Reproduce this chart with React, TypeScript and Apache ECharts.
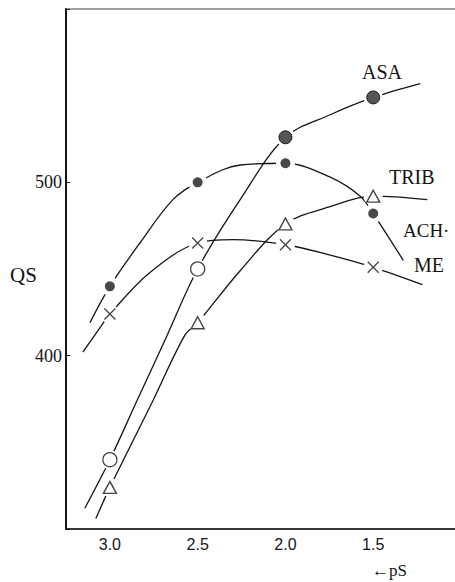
import React, { useEffect, useRef } from "react";
import * as echarts from "echarts";

const pSLevels = [3.0, 2.5, 2.0, 1.5];
const asaQS = [340, 450, 526, 549];
const tribQS = [324, 419, 476, 492];
const achQS = [440, 500, 511, 482];
const meQS = [424, 465, 464, 451];

// Hand-drawn fitted curves: [pS, QS]
const asaCurve: [number, number][] = [
  [3.143, 312], [3.0, 340], [2.846, 374], [2.686, 409], [2.5, 450], [2.258, 490],
  [2.0, 526], [1.745, 539], [1.5, 549], [1.232, 557],
];
const tribCurve: [number, number][] = [
  [3.08, 306], [3.0, 324], [2.755, 374], [2.572, 412], [2.5, 419], [2.258, 449],
  [2.0, 476], [1.745, 486], [1.5, 492], [1.192, 490],
];
const achCurve: [number, number][] = [
  [3.114, 419], [3.0, 440], [2.829, 465], [2.641, 490], [2.5, 500], [2.258, 510],
  [2.0, 511], [1.745, 503], [1.574, 492], [1.5, 482], [1.329, 455],
];
const meCurve: [number, number][] = [
  [3.154, 402], [3.057, 416], [3.0, 424], [2.772, 448], [2.5, 465], [2.298, 467],
  [2.0, 464], [1.745, 458], [1.5, 451], [1.22, 441],
];

const xTickLabels = ["3.0", "2.5", "2.0", "1.5"];
const yTickLabels = ["400", "500"];

const INK = "#151515";
const CROSS = "path://M0,0L10,10M10,0L0,10";

export default function App() {
  const ref = useRef<HTMLDivElement>(null);
  useEffect(() => {
    if (!ref.current) return;
    const chart = echarts.init(ref.current, undefined, { renderer: "svg" });

    const curve = (name: string, data: [number, number][]) => ({
      name,
      type: "line",
      data,
      smooth: 0.35,
      symbol: "none",
      z: 2,
      lineStyle: { color: INK, width: 1.3 },
    });

    const pts = (vals: number[]) => pSLevels.map((p, i) => [p, vals[i]]);

    const haloData = [
      ...pts(asaQS),
      ...pts(tribQS),
      ...pts(achQS),
      ...pts(meQS),
    ];

    const asaPoints = pSLevels.map((p, i) =>
      i < 2
        ? {
            value: [p, asaQS[i]],
            symbol: "circle",
            symbolSize: 14,
            itemStyle: { color: "#fff", borderColor: INK, borderWidth: 1.3 },
          }
        : {
            value: [p, asaQS[i]],
            symbol: "circle",
            symbolSize: 13,
            itemStyle: { color: "#2a2a2a", borderColor: "#000", borderWidth: 1 },
          }
    );

    chart.setOption({
      animation: false,
      backgroundColor: "#fff",
      grid: {
        left: 66,
        width: 395,
        top: 9,
        bottom: 53,
        show: true,
        borderColor: "#444",
        borderWidth: 1.2,
        containLabel: false,
        outerBoundsMode: "none",
      },
      xAxis: {
        type: "value",
        inverse: true,
        min: 1.0,
        max: 3.25,
        interval: 0.5,
        axisLine: { show: true, lineStyle: { color: INK, width: 1.6 } },
        axisTick: { show: false },
        splitLine: { show: false },
        axisLabel: {
          margin: 7,
          color: INK,
          fontFamily: "Liberation Sans",
          fontSize: 16,
          formatter: (v: number) => {
            const s = v.toFixed(1);
            return xTickLabels.includes(s) ? s : "";
          },
        },
      },
      yAxis: {
        type: "value",
        min: 300,
        max: 600,
        interval: 100,
        axisLine: { show: true, lineStyle: { color: INK, width: 2 } },
        axisTick: { show: true, inside: true, length: 4, lineStyle: { color: INK, width: 1 } },
        splitLine: { show: false },
        axisLabel: {
          margin: 4,
          color: INK,
          fontFamily: "Liberation Serif",
          fontSize: 18,
          formatter: (v: number) => {
            const s = String(Math.round(v));
            return yTickLabels.includes(s) ? s : "";
          },
        },
      },
      series: [
        curve("ASA", asaCurve),
        curve("TRIB", tribCurve),
        curve("ACH", achCurve),
        curve("ME", meCurve),
        {
          name: "halo",
          type: "scatter",
          data: haloData,
          symbol: "circle",
          symbolSize: 19,
          z: 3,
          itemStyle: { color: "#fff", opacity: 1 },
          silent: true,
        },
        {
          name: "ASA points",
          type: "scatter",
          data: asaPoints,
          z: 4,
        },
        {
          name: "TRIB points",
          type: "scatter",
          data: pts(tribQS),
          symbol: "triangle",
          symbolSize: [13, 12],
          z: 4,
          itemStyle: { color: "#fff", borderColor: INK, borderWidth: 1.4 },
        },
        {
          name: "ACH points",
          type: "scatter",
          data: pts(achQS),
          symbol: "circle",
          symbolSize: 10,
          z: 4,
          itemStyle: { color: "#1a1a1a" },
        },
        {
          name: "ME points",
          type: "scatter",
          data: pts(meQS),
          symbol: CROSS,
          symbolSize: 11,
          z: 4,
          itemStyle: { color: "none", borderColor: INK, borderWidth: 1.3 },
        },
      ],
      graphic: [
        {
          type: "text",
          x: 10,
          y: 275,
          style: { text: "QS", font: '21px "Liberation Serif"', fill: INK, align: "left", verticalAlign: "middle" },
        },
        {
          type: "text",
          x: 372,
          y: 570,
          style: { text: "←pS", font: '17px "Liberation Serif"', fill: INK, align: "left", verticalAlign: "middle" },
        },
        {
          type: "text",
          x: 362,
          y: 72,
          style: { text: "ASA", font: '20px "Liberation Serif"', fill: INK, align: "left", verticalAlign: "middle" },
        },
        {
          type: "text",
          x: 389,
          y: 177,
          style: { text: "TRIB", font: '20px "Liberation Serif"', fill: INK, align: "left", verticalAlign: "middle" },
        },
        {
          type: "text",
          x: 403,
          y: 230,
          style: { text: "ACH·", font: '19px "Liberation Serif"', fill: INK, align: "left", verticalAlign: "middle" },
        },
        {
          type: "text",
          x: 414,
          y: 265,
          style: { text: "ME", font: '20px "Liberation Serif"', fill: INK, align: "left", verticalAlign: "middle" },
        },
      ],
    });
    return () => chart.dispose();
  }, []);

  return (
    <div
      ref={ref}
      style={{ position: "fixed", left: 0, top: 0, width: 455, height: 582, background: "#fff" }}
    />
  );
}
